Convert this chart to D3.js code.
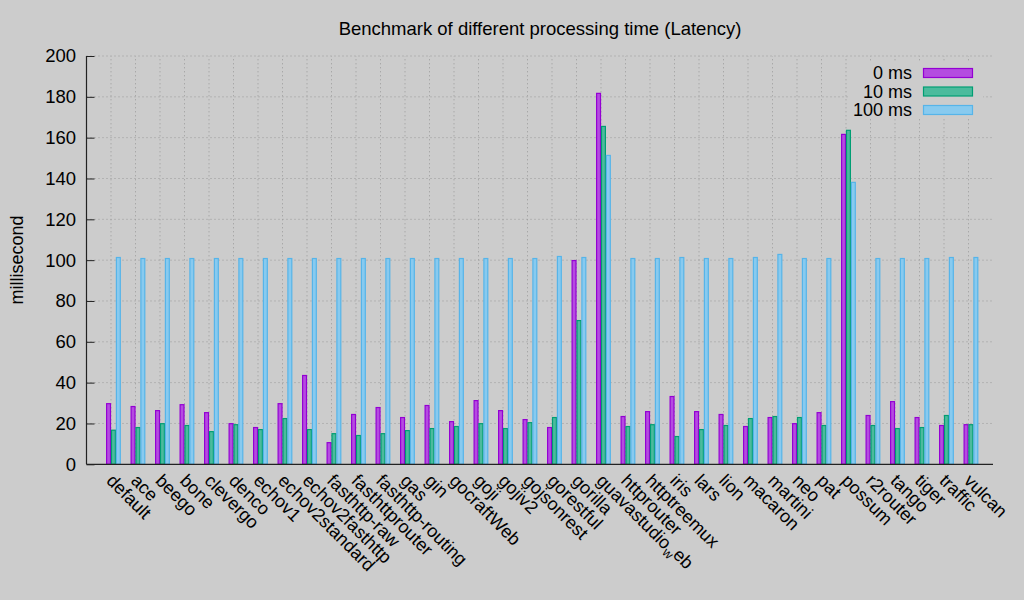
<!DOCTYPE html>
<html>
<head>
<meta charset="utf-8">
<script src="https://cdn.jsdelivr.net/npm/d3@7/dist/d3.min.js"></script>
<style>
  html, body { margin: 0; padding: 0; background: #cccccc; }
  svg { display: block; }
  text { font-family: "Liberation Sans", Arial, Helvetica, sans-serif; fill: #000; }
</style>
</head>
<body>
<svg id="chart" width="1024" height="600"></svg>
<script>
const categories = ["default","ace","beego","bone","clevergo","denco","echov1","echov2standard","echov2fasthttp","fasthttp-raw","fasthttprouter","fasthttp-routing","gas","gin","gocraftWeb","goji","gojiv2","gojsonrest","gorestful","gorilla","guavastudio_web","httprouter","httptreemux","iris","lars","lion","macaron","martini","neo","pat","possum","r2router","tango","tiger","traffic","vulcan"];
const series0ms = [29.7,28.3,26.3,29.2,25.3,19.9,18.0,29.7,43.5,10.6,24.4,27.8,22.9,28.8,20.9,31.2,26.3,21.9,18.0,99.8,181.7,23.4,25.8,33.2,25.8,24.4,18.5,22.9,19.9,25.3,161.6,23.9,30.7,22.9,19.0,19.4];
const series10ms = [16.7,18.0,19.9,19.0,16.0,19.4,17.0,22.4,17.0,15.0,14.1,15.0,16.5,17.5,18.5,19.9,17.5,20.4,22.9,70.4,165.5,18.5,19.4,13.6,17.0,19.0,22.4,23.4,22.9,19.0,163.6,19.0,17.5,18.0,23.9,19.4];
const series100ms = [101.3,100.8,100.8,100.8,100.8,100.8,100.8,100.8,100.8,100.8,100.8,100.8,100.8,100.8,100.8,100.8,100.8,100.8,101.8,101.3,151.3,100.8,100.8,101.3,100.8,100.8,101.3,102.8,100.8,100.8,138.1,100.8,100.8,100.8,101.3,101.3];
const seriesNames = ["0 ms","10 ms","100 ms"];
const yTicks = [0,20,40,60,80,100,120,140,160,180,200];

const fills = ["#b44ce0","#4cbb9d","#88caef"];
const strokes = ["#9400d3","#009e73","#56b4e9"];
const allSeries = [series0ms, series10ms, series100ms];

const svg = d3.select("#chart");
const x = d3.scaleLinear().domain([-1, 36]).range([86.5, 993]);
const y = d3.scaleLinear().domain([0, 200]).range([464.3, 56]);
const step = x(1) - x(0);
const bw = step / 5;

// grid
const grid = svg.append("g");
grid.selectAll("line.h").data(yTicks.filter(d => d > 0)).enter().append("line")
  .attr("x1", x(-1)).attr("x2", x(36))
  .attr("y1", d => y(d)).attr("y2", d => y(d))
  .attr("stroke", "#999").attr("stroke-width", 1).attr("stroke-dasharray", "1,3");
grid.selectAll("line.v").data(categories).enter().append("line")
  .attr("x1", (d, i) => x(i)).attr("x2", (d, i) => x(i))
  .attr("y1", y(0)).attr("y2", y(200))
  .attr("stroke", "#999").attr("stroke-width", 1).attr("stroke-dasharray", "1,3");

// bars
allSeries.forEach((vals, s) => {
  svg.append("g").selectAll("rect").data(vals).enter().append("rect")
    .attr("x", (d, i) => x(i) + (s - 1) * bw + 0.5)
    .attr("y", d => y(d))
    .attr("width", bw - 1)
    .attr("height", d => y(0) - y(d))
    .attr("fill", fills[s]).attr("stroke", strokes[s]).attr("stroke-width", 1.2);
});

// axes
const yAxis = d3.axisLeft(y).tickValues(yTicks).tickSize(-8).tickPadding(10.5).tickFormat(d3.format("d"));
const gy = svg.append("g").attr("transform", `translate(${x(-1)},0)`).call(yAxis);
gy.select(".domain").remove();
gy.selectAll(".tick line").attr("stroke", "#222");
gy.selectAll(".tick text").attr("font-size", 18.5).attr("font-family", "Liberation Sans, Arial, sans-serif").attr("fill", "#000");
svg.append("line").attr("x1", x(-1)).attr("x2", x(-1)).attr("y1", y(0)).attr("y2", y(200)).attr("stroke", "#222").attr("stroke-width", 1.2);
svg.append("line").attr("x1", x(-1)).attr("x2", x(36)).attr("y1", y(0)).attr("y2", y(0)).attr("stroke", "#222").attr("stroke-width", 1.2);

// x labels
const xl = svg.append("g");
categories.forEach((c, i) => {
  const px = x(i) - 1, py = y(0) + 13;
  const t = xl.append("text").attr("font-size", 18)
    .attr("transform", `translate(${px},${py}) rotate(45)`)
    .attr("text-anchor", "start").attr("dy", "0.35em");
  if (c.includes("_")) {
    const parts = c.split("_");
    t.append("tspan").text(parts[0]);
    t.append("tspan").attr("font-size", 13).attr("dy", "0.3em").text(parts[1].charAt(0));
    t.append("tspan").attr("dy", "-0.3em").text(parts[1].slice(1));
  } else {
    t.text(c);
  }
});

// title and y label
svg.append("text").attr("x", 540).attr("y", 35).attr("text-anchor", "middle").attr("font-size", 18.5).text("Benchmark of different processing time (Latency)");
svg.append("text").attr("transform", `translate(23,260) rotate(-90)`).attr("text-anchor", "middle").attr("font-size", 18).text("millisecond");

// legend
const lg = svg.append("g");
lg.append("rect").attr("x", 848).attr("y", 62).attr("width", 135).attr("height", 56).attr("fill", "#cccccc");
seriesNames.forEach((n, s) => {
  const cy = 73 + s * 18.5;
  lg.append("text").attr("x", 912).attr("y", cy).attr("dy", "0.35em").attr("text-anchor", "end").attr("font-size", 18).text(n);
  lg.append("rect").attr("x", 923.5).attr("y", cy - 4.5).attr("width", 49).attr("height", 9)
    .attr("fill", fills[s]).attr("stroke", strokes[s]).attr("stroke-width", 1.2);
});
</script>
</body>
</html>
